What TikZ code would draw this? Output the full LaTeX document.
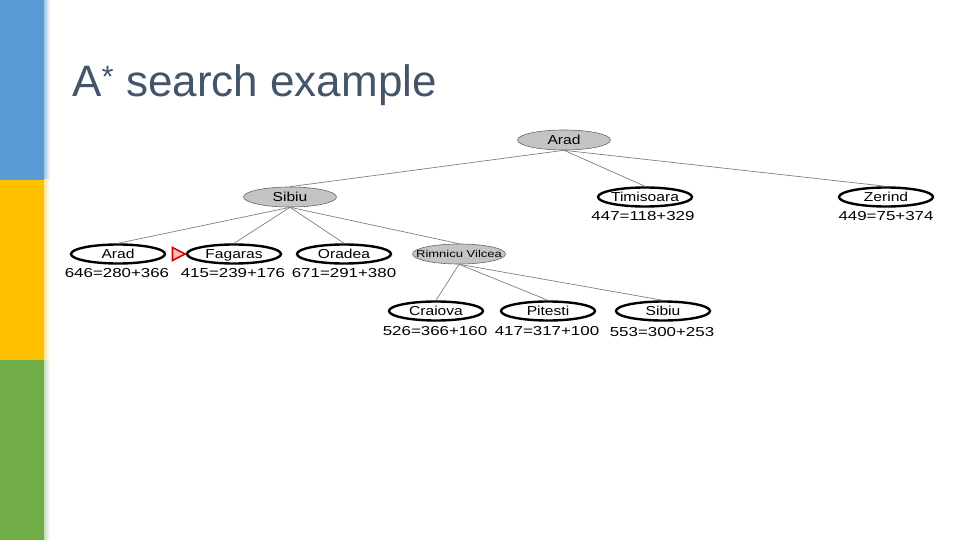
\documentclass[tikz,border=0pt]{standalone}
\usepackage{fontspec}
\setmainfont{Liberation Sans}
\newfontfamily\treefont[FakeStretch=1.3]{Liberation Sans}
\newfontfamily\namefont[FakeStretch=1.2]{Liberation Sans}
\usetikzlibrary{shapes.geometric}
\definecolor{barblue}{HTML}{5B9BD5}
\definecolor{baryellow}{HTML}{FFC000}
\definecolor{bargreen}{HTML}{70AD47}
\definecolor{titlecol}{HTML}{44546A}
\definecolor{nodegray}{HTML}{C4C4C4}
\newcommand{\nz}[1]{\makebox[0pt]{#1}}
\tikzset{
  city/.style={ellipse, draw=black, line width=2.4pt, fill=white, minimum width=94pt, minimum height=19pt, inner sep=0pt, text height=9.3pt, text depth=0pt, font=\namefont\fontsize{13}{13}\selectfont},
  expanded/.style={ellipse, draw=black!60, line width=0.6pt, fill=nodegray, minimum width=93pt, minimum height=20pt, inner sep=0pt, text height=9.3pt, text depth=0pt, font=\namefont\fontsize{13}{13}\selectfont},
  fval/.style={inner sep=0pt, font=\treefont\fontsize{13}{13}\selectfont},
  edge/.style={draw=black!50, line width=0.7pt}
}
\begin{document}
\begin{tikzpicture}[x=1pt,y=-1pt]
\useasboundingbox (0,0) rectangle (960,540);
\fill[white] (0,0) rectangle (960,540);
% side bars
\fill[barblue] (0,0) rectangle (44,180);
\fill[baryellow] (0,180) rectangle (44,360);
\fill[bargreen] (0,360) rectangle (44,540);
\shade[left color=barblue!60, right color=white] (44,0) rectangle (50,180);
\shade[left color=baryellow!40, right color=white] (44,180) rectangle (50,360);
\shade[left color=bargreen!40, right color=white] (44,360) rectangle (50,540);
% title
\node[anchor=base west, inner sep=0pt, text=titlecol, font=\fontsize{44}{44}\selectfont] (title) at (72,97) {A\textsuperscript{*} search example};
% nodes
\node[expanded] (arad) at (564,140) {\nz{Arad}};
\node[expanded] (sibiu) at (290,197) {\nz{Sibiu}};
\node[city] (tim) at (645,197) {\nz{Timisoara}};
\node[city] (zer) at (886,197) {\nz{Zerind}};
\node[city] (arad2) at (118,254) {\nz{Arad}};
\node[city] (fag) at (234,254) {\nz{Fagaras}};
\node[city] (ora) at (344,254) {\nz{Oradea}};
\node[expanded, text height=7.2pt, font=\treefont\fontsize{10}{10}\selectfont] (rim) at (459,254) {\nz{Rimnicu Vilcea}};
\node[city] (cra) at (436,311) {\nz{Craiova}};
\node[city] (pit) at (548,311) {\nz{Pitesti}};
\node[city] (sib2) at (663,311) {\nz{Sibiu}};
% f-values
\node[fval] (ftim) at (643,216) {447=118+329};
\node[fval] (fzer) at (886,216) {449=75+374};
\node[fval] (farad2) at (117,273) {646=280+366};
\node[fval] (ffag) at (233,273) {415=239+176};
\node[fval] (fora) at (344,273) {671=291+380};
\node[fval] (fcra) at (435,331) {526=366+160};
\node[fval] (fpit) at (547,331) {417=317+100};
\node[fval] (fsib2) at (662,332) {553=300+253};
% edges
\draw[edge] (arad.south) -- (sibiu.north);
\draw[edge] (arad.south) -- (tim.north);
\draw[edge] (arad.south) -- (zer.north);
\draw[edge] (sibiu.south) -- (arad2.north);
\draw[edge] (sibiu.south) -- (fag.north);
\draw[edge] (sibiu.south) -- (ora.north);
\draw[edge] (sibiu.south) -- (rim.north);
\draw[edge] (rim.south) -- (cra.north);
\draw[edge] (rim.south) -- (pit.north);
\draw[edge] (rim.south) -- (sib2.north);
% marker
\draw[red!85!black, line width=1.6pt, fill=red!25, line join=miter] (172.5,247.5) -- (185,254) -- (172.5,260.5) -- cycle;
\end{tikzpicture}
\end{document}
